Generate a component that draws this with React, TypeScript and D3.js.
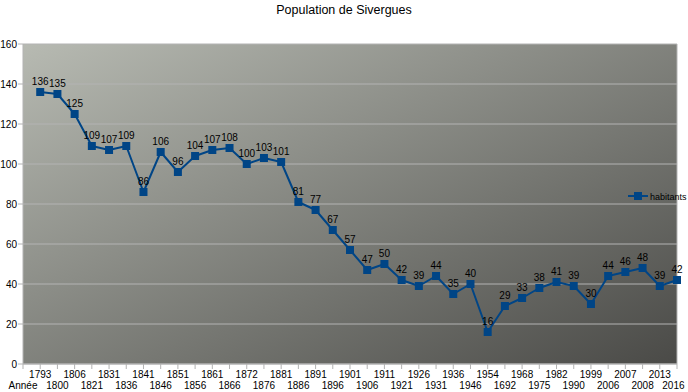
import { line, scaleLinear, scalePoint } from "d3";
import type { ReactElement } from "react";

const WIDTH = 688;
const HEIGHT = 392;
const FONT = "'Liberation Sans', Arial, sans-serif";

const categories: ReadonlyArray<string> = [
  "Année", "1793", "1800", "1806", "1821", "1831", "1836", "1841", "1846", "1851",
  "1856", "1861", "1866", "1872", "1876", "1881", "1886", "1891", "1896", "1901",
  "1906", "1911", "1921", "1926", "1931", "1936", "1946", "1954", "1692", "1968",
  "1975", "1982", "1990", "1999", "2006", "2007", "2008", "2013", "2016",
];

const habitants: ReadonlyArray<number | null> = [
  null, 136, 135, 125, 109, 107, 109, 86, 106, 96,
  104, 107, 108, 100, 103, 101, 81, 77, 67, 57,
  47, 50, 42, 39, 44, 35, 40, 16, 29, 33,
  38, 41, 39, 30, 44, 46, 48, 39, 42,
];

const yTicks: ReadonlyArray<number> = [0, 20, 40, 60, 80, 100, 120, 140, 160];

const PLOT = { left: 23, right: 677, top: 44, bottom: 364 };
const LINE_COLOR = "#004586";

type Pt = { cat: string; value: number };

export default function App(): ReactElement {
  const x = scalePoint<string>().domain(categories as string[]).range([PLOT.left, PLOT.right]);
  const y = scaleLinear().domain([0, 160]).range([PLOT.bottom, PLOT.top]);

  const points: Pt[] = categories
    .map((cat, i) => ({ cat, value: habitants[i] }))
    .filter((d): d is Pt => d.value !== null);

  const path = line<Pt>()
    .x((d) => x(d.cat) ?? 0)
    .y((d) => y(d.value))(points) ?? "";

  const pw = PLOT.right - PLOT.left;
  const ph = PLOT.bottom - PLOT.top;

  return (
    <>
      <style>{"body{margin:0}"}</style>
      <svg width={WIDTH} height={HEIGHT} viewBox={`0 0 ${WIDTH} ${HEIGHT}`} style={{ display: "block", background: "#fff" }}>
        <defs>
          <linearGradient id="bg" x1="0" y1="0" x2="1" y2="1">
            <stop offset="0" stopColor="#b7bab2" />
            <stop offset="1" stopColor="#4a4a47" />
          </linearGradient>
        </defs>

        <text x={WIDTH / 2} y={14} textAnchor="middle" fontFamily={FONT} fontSize={12.5} fill="#000">
          Population de Sivergues
        </text>

        <rect x={PLOT.left} y={PLOT.top} width={pw} height={ph} fill="url(#bg)" />

        {/* horizontal grid */}
        {yTicks.map((t) => (
          <line key={`g${t}`} x1={PLOT.left} x2={PLOT.right} y1={y(t)} y2={y(t)} stroke="#b3b3b3" strokeWidth={1} />
        ))}
        <line x1={PLOT.right} x2={PLOT.right} y1={PLOT.top} y2={PLOT.bottom} stroke="#b3b3b3" />

        {/* y axis */}
        <line x1={PLOT.left} x2={PLOT.left} y1={PLOT.top} y2={PLOT.bottom} stroke="#b3b3b3" />
        {yTicks.map((t) => (
          <g key={`y${t}`}>
            <line x1={PLOT.left - 5} x2={PLOT.left} y1={y(t)} y2={y(t)} stroke="#b3b3b3" />
            <text x={PLOT.left - 6} y={y(t) + 4} textAnchor="end" fontFamily={FONT} fontSize={10} fill="#000">
              {t}
            </text>
          </g>
        ))}

        {/* x axis */}
        <line x1={PLOT.left} x2={PLOT.right} y1={PLOT.bottom} y2={PLOT.bottom} stroke="#b3b3b3" />
        {categories.map((c, i) => {
          const cx = x(c) ?? 0;
          const top = i % 2 === 1;
          const half = c.length * 2.9;
          const lx = Math.min(Math.max(cx, half + 7), WIDTH - half - 3);
          return (
            <g key={`x${i}`}>
              <line x1={cx} x2={cx} y1={PLOT.bottom} y2={PLOT.bottom + 5} stroke="#b3b3b3" />
              <text x={lx} y={top ? 378 : 389} textAnchor="middle" fontFamily={FONT} fontSize={10} fill="#000">
                {c}
              </text>
            </g>
          );
        })}

        {/* series */}
        <path d={path} fill="none" stroke={LINE_COLOR} strokeWidth={2} strokeLinejoin="round" />
        {points.map((d) => {
          const cx = x(d.cat) ?? 0;
          const cy = y(d.value);
          return (
            <g key={`p${d.cat}`}>
              <rect x={cx - 4} y={cy - 4} width={8} height={8} fill={LINE_COLOR} />
              <text x={cx} y={cy - 7} textAnchor="middle" fontFamily={FONT} fontSize={10} fill="#000">
                {d.value}
              </text>
            </g>
          );
        })}

        {/* legend */}
        <line x1={628} x2={648} y1={196} y2={196} stroke={LINE_COLOR} strokeWidth={2} />
        <rect x={634} y={192} width={8} height={8} fill={LINE_COLOR} />
        <text x={650} y={199.5} fontFamily={FONT} fontSize={9} fill="#000">
          habitants
        </text>
      </svg>
    </>
  );
}
